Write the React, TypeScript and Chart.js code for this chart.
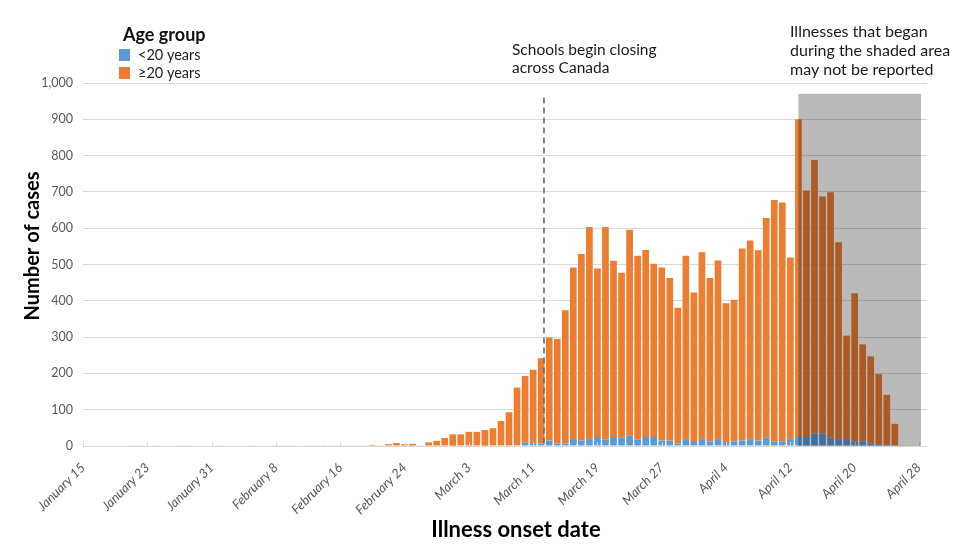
import React, { useEffect, useRef } from "react";
import { Chart, registerables } from "chart.js";

Chart.register(...registerables);

// ---- Data -------------------------------------------------------------
const MONTH_NAMES = ["January", "February", "March", "April"];
const START_DATE = Date.UTC(2020, 0, 15); // January 15, 2020
const DAY_COUNT = 105; // January 15 .. April 28
const TICK_EVERY = 8;

const TICK_LABELS = [
  "January 15", "January 23", "January 31", "February 8", "February 16",
  "February 24", "March 3", "March 11", "March 19", "March 27",
  "April 4", "April 12", "April 20", "April 28",
];

const DATE_LABELS: string[] = [];
for (let i = 0; i < DAY_COUNT; i++) {
  const d = new Date(START_DATE + i * 86400000);
  DATE_LABELS.push(MONTH_NAMES[d.getUTCMonth()] + " " + d.getUTCDate());
}
const CATEGORIES = [...DATE_LABELS, ""]; // trailing blank slot for right margin

const UNDER_20 = [
  0, 0, 0, 0, 0, 0, 0, 0, 0, 0, 0, 0, 0, 0, 0,
  0, 0, 0, 0, 0, 0, 0, 0, 0, 0, 0, 0, 0, 0, 0,
  0, 0, 0, 0, 0, 0, 0, 0, 0, 0, 0, 0, 0, 0, 0,
  0, 1, 0, 0, 0, 1, 0, 2, 0, 2, 10, 8, 7, 15, 7,
  7, 19, 15, 19, 25, 17, 25, 23, 28, 17, 25, 25, 15, 15, 7,
  19, 11, 19, 13, 19, 11, 13, 15, 19, 15, 23, 13, 13, 19, 25,
  25, 35, 35, 23, 19, 19, 13, 13, 7, 5, 3, 2, 0, 0, 0,
];

const AGE_20_PLUS = [
  0, 0, 0, 0, 0, 0, 1, 1, 0, 1, 0, 0, 1, 1, 0,
  0, 0, 1, 0, 0, 0, 1, 0, 0, 1, 1, 1, 0, 1, 1,
  2, 1, 1, 1, 1, 1, 3, 1, 5, 8, 5, 6, 2, 10, 14,
  22, 31, 32, 39, 39, 43, 49, 67, 93, 159, 183, 202, 235, 284, 288,
  367, 473, 514, 584, 464, 586, 485, 454, 568, 507, 515, 477, 477, 448, 374,
  505, 412, 515, 450, 492, 382, 390, 529, 547, 524, 605, 665, 658, 500, 875,
  679, 753, 652, 676, 542, 285, 408, 267, 240, 193, 138, 59, 2, 1, 0,
];

const SERIES_NAMES = ["<20 years", "\u226520 years"];
const SCHOOL_CLOSING_INDEX = 57; // March 12
const SHADE_START_INDEX = 89; // April 13
const SHADE_END_INDEX = 104; // April 28
const Y_MAX = 1000;
const Y_STEP = 100;

// ---- Styles -----------------------------------------------------------
const BLUE = "#5B9BD5";
const ORANGE = "#ED7D31";
const GRID = "#d9d9d9";
const TICK_COLOR = "#595959";
const FONT = "Lato, 'Open Sans', sans-serif";

const decorPlugin = {
  id: "decor",
  beforeDraw(chart: any) {
    const ctx = chart.ctx;
    ctx.save();
    ctx.fillStyle = "#ffffff";
    ctx.fillRect(0, 0, chart.width, chart.height);
    ctx.restore();
  },
  afterDatasetsDraw(chart: any) {
    const ctx = chart.ctx;
    const xs = chart.scales.x;
    const ys = chart.scales.y;
    const slot = xs.getPixelForValue(1) - xs.getPixelForValue(0);
    const base = ys.getPixelForValue(0);

    ctx.save();
    // small tick marks on the axis at labelled dates
    ctx.strokeStyle = GRID;
    ctx.lineWidth = 1;
    for (let i = 0; i < DAY_COUNT; i += TICK_EVERY) {
      const px = Math.round(xs.getPixelForValue(i)) + 0.5;
      ctx.beginPath();
      ctx.moveTo(px, base - 4);
      ctx.lineTo(px, base + 1);
      ctx.stroke();
    }

    // dashed line: schools begin closing
    const dx = xs.getPixelForValue(SCHOOL_CLOSING_INDEX) + slot * 0.35;
    ctx.strokeStyle = "#6b6b6b";
    ctx.lineWidth = 1.6;
    ctx.setLineDash([6, 4]);
    ctx.beginPath();
    ctx.moveTo(dx, ys.getPixelForValue(960));
    ctx.lineTo(dx, base);
    ctx.stroke();
    ctx.setLineDash([]);

    // shaded area (multiply)
    const sx0 = xs.getPixelForValue(SHADE_START_INDEX);
    const sx1 = xs.getPixelForValue(SHADE_END_INDEX) + slot * 0.25;
    const sy0 = ys.getPixelForValue(970);
    ctx.globalCompositeOperation = "multiply";
    ctx.fillStyle = "#BABABA";
    ctx.fillRect(sx0, sy0, sx1 - sx0, base - sy0);
    ctx.globalCompositeOperation = "source-over";
    ctx.restore();
  },
  afterDraw(chart: any) {
    const ctx = chart.ctx;
    ctx.save();
    ctx.textBaseline = "alphabetic";
    ctx.textAlign = "left";

    // Legend
    ctx.fillStyle = "#111";
    ctx.font = `bold 18px ${FONT}`;
    ctx.fillText("Age group", 123, 41);
    ctx.font = `14.5px ${FONT}`;
    ctx.fillStyle = BLUE;
    ctx.fillRect(119, 49, 11, 12);
    ctx.fillStyle = ORANGE;
    ctx.fillRect(119, 67, 11, 12);
    ctx.fillStyle = "#222";
    ctx.fillText(SERIES_NAMES[0], 138, 60);
    ctx.fillText(SERIES_NAMES[1], 138, 78);

    // Annotations
    ctx.fillStyle = "#1a1a1a";
    ctx.font = `15.5px ${FONT}`;
    ctx.fillText("Schools begin closing", 512, 55);
    ctx.fillText("across Canada", 512, 73);
    ctx.font = `16px ${FONT}`;
    ctx.fillText("Illnesses that began", 790, 37);
    ctx.fillText("during the shaded area", 790, 56);
    ctx.fillText("may not be reported", 790, 75);

    // Axis titles
    ctx.fillStyle = "#000";
    ctx.textAlign = "center";
    ctx.textBaseline = "middle";
    ctx.font = `bold 22px ${FONT}`;
    ctx.fillText("Illness onset date", 516, 530);
    ctx.translate(33, 246);
    ctx.rotate(-Math.PI / 2);
    ctx.font = `bold 20px ${FONT}`;
    ctx.fillText("Number of cases", 0, 0);
    ctx.restore();
  },
};

export default function App() {
  const canvasRef = useRef<HTMLCanvasElement | null>(null);

  useEffect(() => {
    const canvas = canvasRef.current;
    if (!canvas) return;
    Chart.defaults.font.family = FONT;
    const chart = new Chart(canvas, {
      type: "bar",
      data: {
        labels: CATEGORIES,
        datasets: [
          {
            label: SERIES_NAMES[0],
            data: UNDER_20,
            backgroundColor: BLUE,
            borderWidth: 0,
            categoryPercentage: 1,
            barPercentage: 0.83,
          },
          {
            label: SERIES_NAMES[1],
            data: AGE_20_PLUS,
            backgroundColor: ORANGE,
            borderWidth: 0,
            categoryPercentage: 1,
            barPercentage: 0.83,
          },
        ],
      },
      options: {
        responsive: false,
        animation: false,
        devicePixelRatio: 1,
        layout: { padding: { top: 83, right: 53, left: 0, bottom: 0 } },
        plugins: {
          legend: { display: false },
          tooltip: { enabled: false },
          title: { display: false },
        },
        scales: {
          x: {
            stacked: true,
            offset: false,
            grid: { display: false, offset: false },
            border: { display: false },
            ticks: {
              autoSkip: false,
              minRotation: 45,
              maxRotation: 45,
              padding: 6,
              color: TICK_COLOR,
              font: { family: FONT, size: 13, style: "italic" },
              callback: (_v: any, index: number) =>
                index % TICK_EVERY === 0 && index < DAY_COUNT
                  ? TICK_LABELS[index / TICK_EVERY]
                  : "",
            },
            afterFit: (scale: any) => {
              scale.height = 114;
            },
          },
          y: {
            stacked: true,
            min: 0,
            max: Y_MAX,
            grid: { color: GRID, lineWidth: 1, drawTicks: false },
            border: { display: false },
            ticks: {
              stepSize: Y_STEP,
              padding: 10,
              color: TICK_COLOR,
              font: { family: FONT, size: 12.5 },
            },
            afterFit: (scale: any) => {
              scale.width = 83;
            },
          },
        },
      },
      plugins: [decorPlugin],
    });
    return () => chart.destroy();
  }, []);

  return (
    <div style={{ position: "fixed", left: 0, top: 0, width: 980, height: 560, background: "#fff" }}>
      <canvas ref={canvasRef} width={980} height={560} />
    </div>
  );
}
